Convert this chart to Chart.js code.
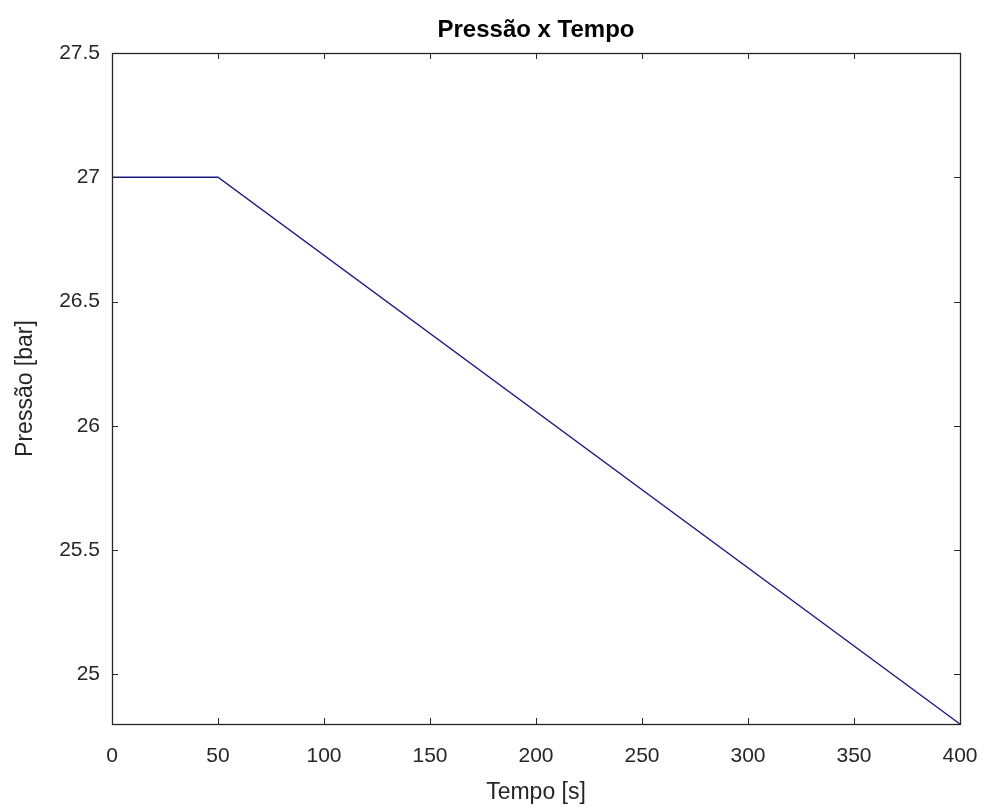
<!DOCTYPE html>
<html>
<head>
<meta charset="utf-8">
<script src="https://cdn.jsdelivr.net/npm/chart.js@4.4.0/dist/chart.umd.min.js"></script>
<style>
  html, body { margin: 0; padding: 0; background: #ffffff; }
  #wrap { width: 986px; height: 810px; }
</style>
</head>
<body>
<div id="wrap"><canvas id="c" width="986" height="810"></canvas></div>
<script>
// Data
const timeValues = [0, 50, 400];
const pressureValues = [27, 27, 24.8];
const xTickValues = [0, 50, 100, 150, 200, 250, 300, 350, 400];
const yTickValues = [25, 25.5, 26, 26.5, 27, 27.5];
const chartTitle = 'Pressão x Tempo';
const xTitle = 'Tempo [s]';
const yTitle = 'Pressão [bar]';

const axisColor = '#262626';
const FONT = "'Liberation Sans', Arial, Helvetica, sans-serif";

const points = timeValues.map((t, i) => ({ x: t, y: pressureValues[i] }));

const boxPlugin = {
  id: 'boxPlugin',
  afterDatasetsDraw(chart) {
    const ctx = chart.ctx;
    const a = chart.chartArea;
    const xs = chart.scales.x, ys = chart.scales.y;
    const tl = 6;
    ctx.save();
    ctx.strokeStyle = axisColor;
    ctx.lineWidth = 1;
    ctx.beginPath();
    xTickValues.forEach(v => {
      const px = Math.round(xs.getPixelForValue(v)) + 0.5;
      ctx.moveTo(px, a.bottom); ctx.lineTo(px, a.bottom - tl);
      ctx.moveTo(px, a.top); ctx.lineTo(px, a.top + tl);
    });
    yTickValues.forEach(v => {
      const py = Math.round(ys.getPixelForValue(v)) + 0.5;
      ctx.moveTo(a.left, py); ctx.lineTo(a.left + tl, py);
      ctx.moveTo(a.right, py); ctx.lineTo(a.right - tl, py);
    });
    ctx.stroke();
    ctx.lineWidth = 1.3;
    ctx.strokeRect(Math.round(a.left) + 0.5, Math.round(a.top) + 0.5,
                   Math.round(a.right - a.left), Math.round(a.bottom - a.top));
    ctx.restore();
  }
};

new Chart(document.getElementById('c'), {
  type: 'line',
  data: {
    datasets: [{
      data: points,
      borderColor: '#1a1a80',
      borderWidth: 1.4,
      pointRadius: 0,
      fill: false,
      tension: 0
    }]
  },
  options: {
    responsive: false,
    animation: false,
    devicePixelRatio: 1,
    layout: { padding: { left: 0, right: 26, top: 0, bottom: 0 } },
    plugins: {
      legend: { display: false },
      tooltip: { enabled: false },
      title: {
        display: true,
        text: chartTitle,
        fullSize: false,
        color: '#000000',
        font: { family: FONT, size: 24, weight: 'bold', lineHeight: 1.2 },
        padding: { top: 16, bottom: 8.2 }
      }
    },
    scales: {
      x: {
        type: 'linear',
        min: 0, max: 400,
        afterBuildTicks(s) { s.ticks = xTickValues.map(v => ({ value: v })); },
        afterFit(s) { s.height = 86; s.paddingLeft = 0; s.paddingRight = 0; },
        grid: { display: false, drawTicks: false },
        border: { display: false },
        ticks: {
          color: axisColor,
          padding: 20,
          maxRotation: 0,
          font: { family: FONT, size: 21 }
        },
        title: {
          display: true,
          text: xTitle,
          color: axisColor,
          font: { family: FONT, size: 23, lineHeight: 1.2 },
          padding: { top: 0, bottom: 4 }
        }
      },
      y: {
        type: 'linear',
        min: 24.8, max: 27.5,
        afterBuildTicks(s) { s.ticks = yTickValues.map(v => ({ value: v })); },
        afterFit(s) { s.width = 112; s.paddingTop = 0; s.paddingBottom = 0; },
        grid: { display: false, drawTicks: false },
        border: { display: false },
        ticks: {
          color: axisColor,
          padding: 12,
          font: { family: FONT, size: 21 },
          callback: v => String(v)
        },
        title: {
          display: true,
          text: yTitle,
          color: axisColor,
          font: { family: FONT, size: 23, lineHeight: 1.2 },
          padding: { top: 12, bottom: 0 }
        }
      }
    }
  },
  plugins: [boxPlugin]
});
</script>
</body>
</html>
